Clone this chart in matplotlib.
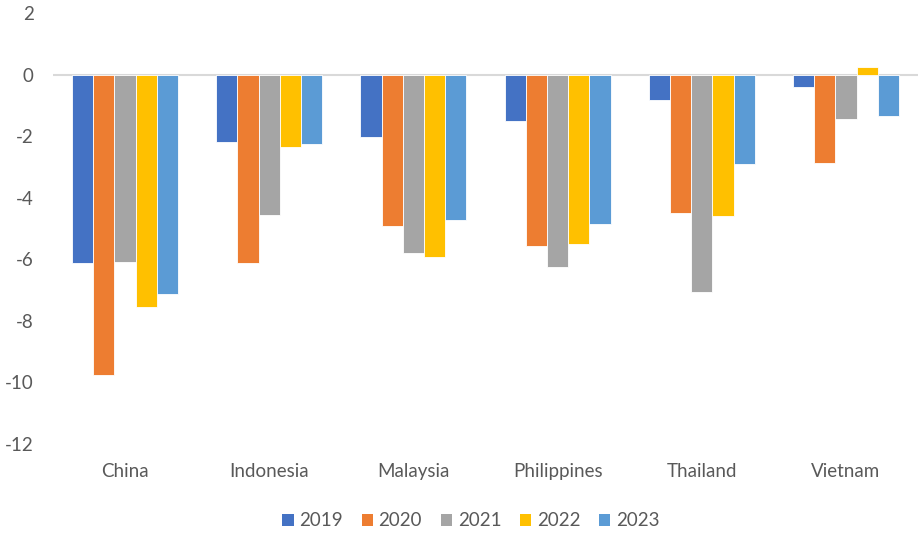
import numpy as np
import matplotlib
matplotlib.use("Agg")
import matplotlib.pyplot as plt
from matplotlib.patches import Patch

plt.rcParams['font.family'] = ['Lato', 'DejaVu Sans']

countries = ["China", "Indonesia", "Malaysia", "Philippines", "Thailand", "Vietnam"]
years = ["2019", "2020", "2021", "2022", "2023"]

v2019 = [-6.13, -2.18, -2.02, -1.50, -0.81, -0.40]
v2020 = [-9.77, -6.13, -4.92, -5.58, -4.50, -2.88]
v2021 = [-6.08, -4.56, -5.79, -6.25, -7.07, -1.43]
v2022 = [-7.56, -2.35, -5.91, -5.51, -4.58, 0.25]
v2023 = [-7.14, -2.25, -4.72, -4.85, -2.91, -1.35]

series = [v2019, v2020, v2021, v2022, v2023]
colors = ["#4472C4", "#ED7D31", "#A5A5A5", "#FFC000", "#5B9BD5"]
yticks = [2, 0, -2, -4, -6, -8, -10, -12]

fig = plt.figure(figsize=(9.19, 5.33), dpi=100)
ax = fig.add_axes([53 / 919, 1 - 444 / 533, 865 / 919, (444 - 13) / 533])

x = np.arange(len(countries))
width = 0.147
for i, (vals, col) in enumerate(zip(series, colors)):
    offs = (i - 2) * width
    ax.bar(x + offs, vals, width=width, color=col, edgecolor="white",
           linewidth=0.6, label=years[i], zorder=2)

ax.axhline(0, color="#D9D9D9", linewidth=1.5, zorder=1)

ax.set_xlim(-0.5, len(countries) - 0.5)
ax.set_ylim(-12, 2)
ax.set_yticks(yticks)
ax.set_yticklabels([str(t) for t in yticks])
ax.set_xticks(x)
ax.set_xticklabels(countries)
ax.tick_params(axis="y", length=0, pad=14, labelsize=13.5, labelcolor="#595959")
ax.tick_params(axis="x", length=0, pad=13.5, labelsize=13.5, labelcolor="#595959")
for s in ax.spines.values():
    s.set_visible(False)

handles = [Patch(facecolor=c, edgecolor="none") for c in colors]
fig.legend(handles, years, loc="center", bbox_to_anchor=(471 / 919, 1 - 521 / 533),
           ncol=5, frameon=False, fontsize=13.5, labelcolor="#595959",
           handlelength=0.6, handleheight=0.6, handletextpad=0.3, columnspacing=1.0)

fig.savefig("out.png", dpi=100)
